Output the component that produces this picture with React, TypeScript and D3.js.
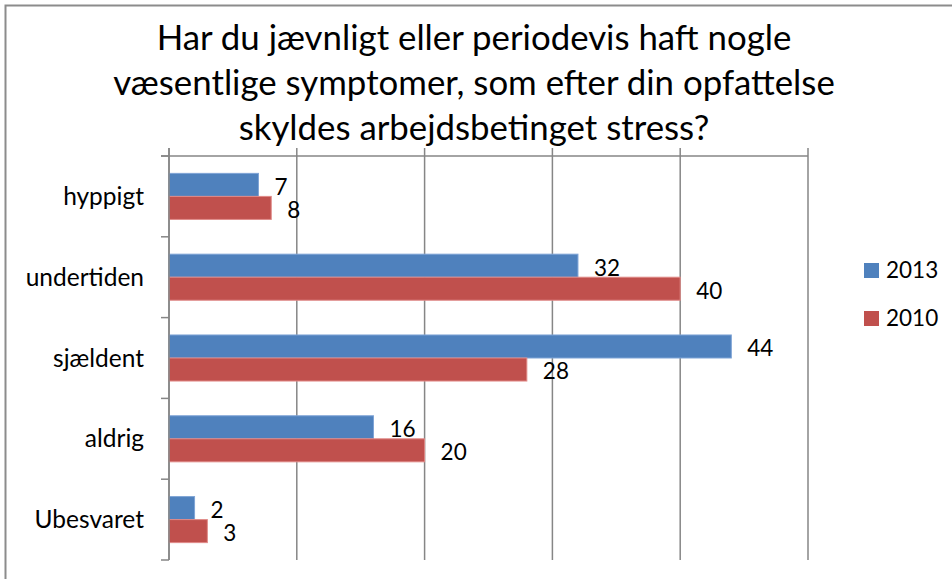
import React, { useEffect, useRef } from "react";
import * as d3 from "d3";

const categories = ["hyppigt", "undertiden", "sjældent", "aldrig", "Ubesvaret"];
const series = ["2013", "2010"];
const values2013 = [7, 32, 44, 16, 2];
const values2010 = [8, 40, 28, 20, 3];
const colors = ["#4F81BD", "#C0504D"];
const strokes = ["#7FA4D6", "#E08A88"];
const titleLines = [
  "Har du jævnligt eller periodevis haft nogle",
  "væsentlige symptomer, som efter din opfattelse",
  "skyldes arbejdsbetinget stress?",
];
const xTicks = [0, 10, 20, 30, 40, 50];

const App = () => {
  const ref = useRef<SVGSVGElement>(null);

  useEffect(() => {
    document.body.style.margin = "0";
    const font = "Lato, 'Open Sans', sans-serif";
    const svg = d3.select(ref.current);
    svg.selectAll("*").remove();

    // chart border (only top/left visible)
    svg
      .append("rect")
      .attr("x", 5.5)
      .attr("y", 5.5)
      .attr("width", 1000)
      .attr("height", 1000)
      .attr("fill", "white")
      .attr("stroke", "#8c8c8c")
      .attr("stroke-width", 2);

    // title
    svg
      .append("g")
      .selectAll("text")
      .data(titleLines)
      .enter()
      .append("text")
      .attr("x", 474)
      .attr("y", (d, i) => 50 + i * 45)
      .attr("text-anchor", "middle")
      .attr("font-family", font)
      .attr("font-size", 34.8)
      .attr("fill", "#000")
      .text((d) => d);

    const x = d3.scaleLinear().domain([0, 50]).range([169, 808]);
    const y = d3.scaleBand().domain(categories).range([156, 560]);
    const inner = d3
      .scaleBand()
      .domain(series)
      .range([y.bandwidth() * 0.215, y.bandwidth() * 0.785]);

    // gridlines + top ticks
    svg
      .append("g")
      .selectAll("line")
      .data(xTicks)
      .enter()
      .append("line")
      .attr("x1", (d) => x(d))
      .attr("x2", (d) => x(d))
      .attr("y1", 148)
      .attr("y2", 560)
      .attr("stroke", "#868686")
      .attr("stroke-width", 1.5);

    // top axis line
    svg
      .append("line")
      .attr("x1", 161)
      .attr("x2", x(50))
      .attr("y1", 156)
      .attr("y2", 156)
      .attr("stroke", "#868686")
      .attr("stroke-width", 1.5);

    // category ticks
    const bounds = categories.map((c) => y(c)!).concat([560]);
    svg
      .append("g")
      .selectAll("line")
      .data(bounds)
      .enter()
      .append("line")
      .attr("x1", 161)
      .attr("x2", 169)
      .attr("y1", (d) => d)
      .attr("y2", (d) => d)
      .attr("stroke", "#868686")
      .attr("stroke-width", 1.5);

    // category labels
    svg
      .append("g")
      .selectAll("text")
      .data(categories)
      .enter()
      .append("text")
      .attr("x", 144)
      .attr("y", (d) => y(d)! + y.bandwidth() / 2)
      .attr("dy", "0.35em")
      .attr("text-anchor", "end")
      .attr("font-family", font)
      .attr("font-size", 24.5)
      .text((d) => d);

    // bars
    const allSeries = [values2013, values2010];
    allSeries.forEach((vals, si) => {
      const g = svg.append("g");
      g.selectAll("rect")
        .data(vals)
        .enter()
        .append("rect")
        .attr("x", x(0))
        .attr("y", (d, i) => y(categories[i])! + inner(series[si])!)
        .attr("width", (d) => x(d) - x(0))
        .attr("height", inner.bandwidth())
        .attr("fill", colors[si])
        .attr("stroke", strokes[si])
        .attr("stroke-width", 1);
      g.selectAll("text")
        .data(vals)
        .enter()
        .append("text")
        .attr("x", (d) => x(d) + 16)
        .attr("y", (d, i) => y(categories[i])! + inner(series[si])! + inner.bandwidth() / 2 + 2)
        .attr("dy", "0.35em")
        .attr("font-family", font)
        .attr("font-size", 22.5)
        .text((d) => d);
    });

    // vertical axis line on top of bars
    svg
      .append("line")
      .attr("x1", x(0))
      .attr("x2", x(0))
      .attr("y1", 148)
      .attr("y2", 560)
      .attr("stroke", "#868686")
      .attr("stroke-width", 1.5);

    // legend
    const legend = svg
      .append("g")
      .selectAll("g")
      .data(series)
      .enter()
      .append("g")
      .attr("transform", (d, i) => `translate(864, ${263 + i * 48})`);
    legend
      .append("rect")
      .attr("width", 15)
      .attr("height", 15)
      .attr("fill", (d, i) => colors[i]);
    legend
      .append("text")
      .attr("x", 22)
      .attr("y", 7.5)
      .attr("dy", "0.35em")
      .attr("font-family", font)
      .attr("font-size", 22.5)
      .text((d) => d);
  }, []);

  return <svg ref={ref} width={952} height={579} style={{ display: "block" }}></svg>;
};

export default App;
